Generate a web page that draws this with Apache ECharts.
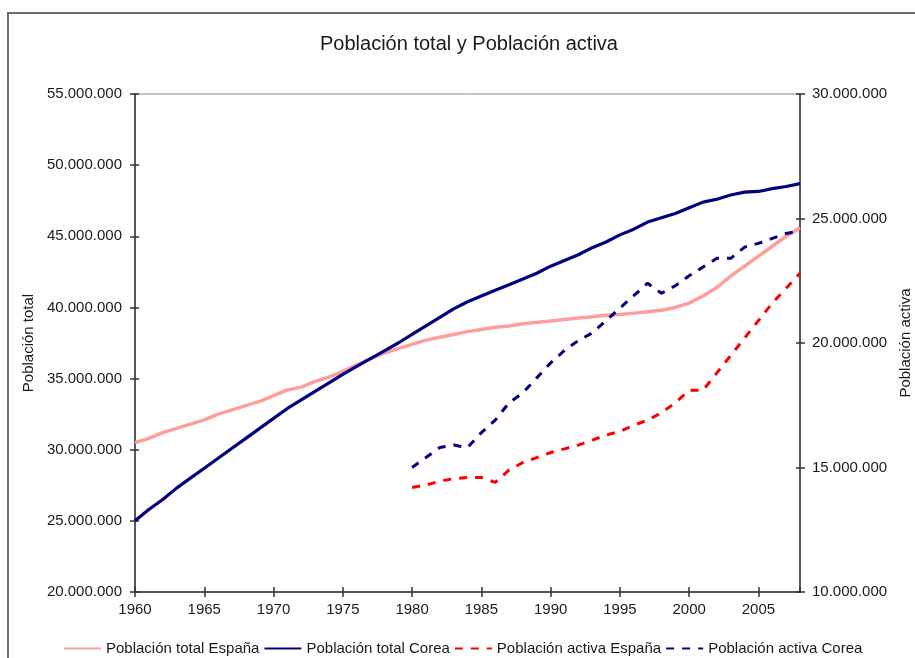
<!DOCTYPE html>
<html>
<head>
<meta charset="utf-8">
<script src="https://cdn.jsdelivr.net/npm/echarts@6/dist/echarts.min.js"></script>
<style>
html,body{margin:0;padding:0;background:#fff;}
#c{width:915px;height:658px;}
</style>
</head>
<body>
<div id="c"></div>
<script>
// ---- data (millions of people) ----
var years = [1960,1961,1962,1963,1964,1965,1966,1967,1968,1969,
             1970,1971,1972,1973,1974,1975,1976,1977,1978,1979,
             1980,1981,1982,1983,1984,1985,1986,1987,1988,1989,
             1990,1991,1992,1993,1994,1995,1996,1997,1998,1999,
             2000,2001,2002,2003,2004,2005,2006,2007,2008];
var totalEspana = [30.5,30.8,31.2,31.5,31.8,32.1,32.5,32.8,33.1,33.4,
                   33.8,34.2,34.4,34.8,35.1,35.5,35.95,36.4,36.8,37.1,
                   37.4,37.7,37.9,38.1,38.3,38.45,38.6,38.7,38.85,38.95,
                   39.05,39.15,39.25,39.35,39.45,39.5,39.6,39.7,39.8,40.0,
                   40.3,40.8,41.4,42.2,42.9,43.6,44.3,45.0,45.6];
var totalCorea = [25.0,25.8,26.5,27.3,28.0,28.7,29.4,30.1,30.8,31.5,
                  32.2,32.9,33.5,34.1,34.7,35.3,35.85,36.4,36.95,37.5,
                  38.1,38.7,39.3,39.9,40.4,40.8,41.2,41.6,42.0,42.4,
                  42.9,43.3,43.7,44.2,44.6,45.1,45.5,46.0,46.3,46.6,
                  47.0,47.4,47.6,47.9,48.1,48.15,48.35,48.5,48.7];
var yearsActiva = [1980,1981,1982,1983,1984,1985,1986,1987,1988,1989,
                   1990,1991,1992,1993,1994,1995,1996,1997,1998,1999,
                   2000,2001,2002,2003,2004,2005,2006,2007,2008];
var activaEspana = [14.2,14.3,14.45,14.55,14.6,14.6,14.4,14.9,15.2,15.4,
                    15.6,15.75,15.9,16.1,16.3,16.45,16.7,16.9,17.2,17.6,
                    18.1,18.1,18.8,19.5,20.2,20.9,21.6,22.2,22.8];
var activaCorea = [15.0,15.4,15.8,15.9,15.8,16.4,16.9,17.6,18.0,18.6,
                   19.2,19.7,20.1,20.4,20.9,21.4,21.9,22.4,22.0,22.3,
                   22.7,23.05,23.4,23.4,23.85,24.0,24.2,24.4,24.5];
var seriesNames = ['Población total España','Población total Corea','Población activa España','Población activa Corea'];
var titleText = 'Población total y Población activa';
var leftAxisName = 'Población total';
var rightAxisName = 'Población activa';

function pairs(xs, ys){ return xs.map(function(x,i){ return [x, ys[i]*1e6]; }); }
function fmt(v){ return String(Math.round(v)).replace(/\B(?=(\d{3})+(?!\d))/g,'.'); }

var FONT = 'Liberation Sans, Arial, sans-serif';
var TXT = '#1a1a1a';
var AXC = '#333';

var chart = echarts.init(document.getElementById('c'), null, {renderer:'canvas'});
var xBase = {type:'value', min:1960, max:2008, interval:5, splitLine:{show:false}};
var yLBase = {type:'value', min:20000000, max:55000000, interval:5000000, splitLine:{show:false}};
var yRBase = {type:'value', min:10000000, max:30000000, interval:5000000, splitLine:{show:false}};

chart.setOption({
  animation:false,
  backgroundColor:'#fff',
  textStyle:{fontFamily:FONT},
  title:{text:titleText, left:320, top:34, padding:0,
         textStyle:{fontFamily:FONT, fontSize:20, fontWeight:'normal', color:TXT}},
  graphic:[{type:'rect', shape:{x:8, y:13, width:1000, height:1000},
            style:{fill:null, stroke:'#6e6e6e', lineWidth:2}, silent:true, z:-1}],
  grid:{left:135, right:115, top:94, bottom:66, outerBoundsMode:'none', containLabel:false,
        show:true, borderColor:'#8a8a8a', borderWidth:1, backgroundColor:'transparent'},
  legend:{left:63, top:641, padding:0, itemWidth:37, itemHeight:12, itemGap:4,
          itemStyle:{opacity:0},
          textStyle:{fontFamily:FONT, fontSize:15, color:TXT},
          data:seriesNames},
  xAxis:[
    Object.assign({}, xBase, {position:'bottom',
      axisLine:{show:true, lineStyle:{color:AXC, width:1.5}},
      axisTick:{show:true, length:5, lineStyle:{color:AXC, width:1.5}},
      axisLabel:{show:true, margin:10, showMaxLabel:false, fontSize:15, color:TXT, fontFamily:FONT,
                 formatter:function(v){return String(v);}}}),
    Object.assign({}, xBase, {position:'bottom',
      axisLine:{show:false},
      axisTick:{show:true, inside:true, length:5, lineStyle:{color:AXC, width:1.5}},
      axisLabel:{show:false}})
  ],
  yAxis:[
    Object.assign({}, yLBase, {position:'left', offset:0,
      name:leftAxisName, nameLocation:'middle', nameGap:96, nameRotate:90,
      nameTextStyle:{fontFamily:FONT, fontSize:15, color:TXT},
      axisLine:{show:true, lineStyle:{color:AXC, width:1.5}},
      axisTick:{show:true, length:5, lineStyle:{color:AXC, width:1.5}},
      axisLabel:{margin:13, fontSize:15, color:TXT, fontFamily:FONT, formatter:fmt}}),
    Object.assign({}, yRBase, {position:'right', offset:0,
      name:rightAxisName, nameLocation:'middle', nameGap:97, nameRotate:90,
      nameTextStyle:{fontFamily:FONT, fontSize:15, color:TXT},
      axisLine:{show:true, lineStyle:{color:AXC, width:1.5}},
      axisTick:{show:true, length:5, lineStyle:{color:AXC, width:1.5}},
      axisLabel:{margin:12, fontSize:15, color:TXT, fontFamily:FONT, formatter:fmt}}),
    Object.assign({}, yLBase, {position:'left', offset:0,
      axisLine:{show:false},
      axisTick:{show:true, inside:true, length:4, lineStyle:{color:AXC, width:1.5}},
      axisLabel:{show:false}}),
    Object.assign({}, yRBase, {position:'right', offset:0,
      axisLine:{show:false},
      axisTick:{show:true, inside:true, length:4, lineStyle:{color:AXC, width:1.5}},
      axisLabel:{show:false}})
  ],
  series:[
    {name:seriesNames[0], type:'line', xAxisIndex:0, yAxisIndex:0, showSymbol:false, symbol:'none',
     data:pairs(years, totalEspana), lineStyle:{color:'#ff9c9c', width:3.5}, itemStyle:{color:'#ff9c9c'}, z:2},
    {name:seriesNames[1], type:'line', xAxisIndex:0, yAxisIndex:0, showSymbol:false, symbol:'none',
     data:pairs(years, totalCorea), lineStyle:{color:'#000080', width:3.2}, itemStyle:{color:'#000080'}, z:3},
    {name:seriesNames[2], type:'line', xAxisIndex:0, yAxisIndex:1, showSymbol:false, symbol:'none',
     data:pairs(yearsActiva, activaEspana), lineStyle:{color:'#ff0000', width:3, type:[8,8]}, itemStyle:{color:'#ff0000'}, z:4},
    {name:seriesNames[3], type:'line', xAxisIndex:0, yAxisIndex:1, showSymbol:false, symbol:'none',
     data:pairs(yearsActiva, activaCorea), lineStyle:{color:'#000080', width:3, type:[8,8]}, itemStyle:{color:'#000080'}, z:4}
  ]
});
</script>
</body>
</html>
